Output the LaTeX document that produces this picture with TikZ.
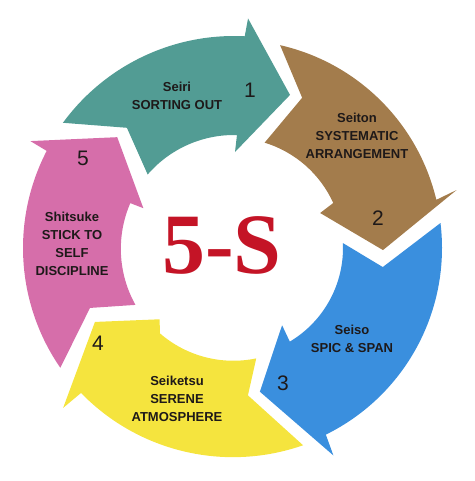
\documentclass[tikz,border=0pt]{standalone}
\usepackage{fontspec}
\setmainfont{Liberation Sans}
\newfontfamily\titlefont{Liberation Serif}
\usepackage{tikz}
\definecolor{sortgreen}{RGB}{82,156,148}
\definecolor{orderbrown}{RGB}{163,124,76}
\definecolor{cleanblue}{RGB}{58,143,222}
\definecolor{stdyellow}{RGB}{245,228,62}
\definecolor{habitpink}{RGB}{214,110,170}
\definecolor{ink}{RGB}{30,25,25}
\definecolor{titlered}{RGB}{196,20,38}
\tikzset{
	x=1pt, y=1pt, % una unidad por pixel
	label/.style={font=\bfseries\fontsize{13}{18}\selectfont, text=ink, align=center}, % textos de cada paso
	number/.style={font=\fontsize{21}{21}\selectfont, text=ink}, % numero del paso
	title/.style={font=\titlefont\bfseries\fontsize{86}{86}\selectfont, text=titlered} % texto central
}

\begin{document}
\begin{tikzpicture}
	\useasboundingbox (-234,-233) rectangle (240,248);
	% flechas del ciclo
	\fill[sortgreen] (143.8:212) arc[start angle=143.8, end angle=87.1, radius=212] -- (86.5:230) -- (69.9:163) -- (89.4:96) -- (88.5:113) arc[start angle=88.5, end angle=139.2, radius=114] -- (131.7:161) -- cycle;
	\fill[orderbrown] (77.2:208) arc[start angle=77.2, end angle=13.4, radius=208] -- (14.6:230) -- (-0.8:149) -- (22.1:93) -- (24.4:109) arc[start angle=24.4, end angle=73, radius=111] -- (65.6:165) -- cycle;
	\fill[cleanblue] (6.9:208) arc[start angle=6.9, end angle=-63.8, radius=208] -- (-64.4:230) -- (-79.8:146) -- (-58.1:91) -- (-59.2:109) arc[start angle=-59.2, end angle=2.6, radius=109] -- (-7.3:150) -- cycle;
	\fill[stdyellow] (-70.7:209) arc[start angle=-70.7, end angle=-135.8, radius=212] -- (-136.9:234) -- (-152:157.5) -- (-136.2:103) -- (-131:113) arc[start angle=-131, end angle=-78.2, radius=112] -- (-84.6:148) -- cycle;
	\fill[habitpink] (214.6:211) arc[start angle=214.6, end angle=152.6, radius=211] -- (152.3:230) -- (136.5:161) -- (156.3:99) -- (156.6:113) arc[start angle=156.6, end angle=209.2, radius=115] -- (202.6:156) -- cycle;

	\node[label] (seiri) at (-57,152) {Seiri\\SORTING OUT};
	\node[label] (seiton) at (123,112) {Seiton\\SYSTEMATIC\\ARRANGEMENT};
	\node[label] (seiso) at (118,-91) {Seiso\\SPIC \& SPAN};
	\node[label] (seiketsu) at (-57,-151) {Seiketsu\\SERENE\\ATMOSPHERE};
	\node[label] (shitsuke) at (-162,4) {Shitsuke\\STICK TO\\SELF\\DISCIPLINE};

	\node[number] (n1) at (16,158) {1};
	\node[number] (n2) at (144,30) {2};
	\node[number] (n3) at (49,-135) {3};
	\node[number] (n4) at (-136,-95) {4};
	\node[number] (n5) at (-151,90) {5};

	\node[title] (fives) at (-12,3) {5-S};
\end{tikzpicture}
\end{document}
